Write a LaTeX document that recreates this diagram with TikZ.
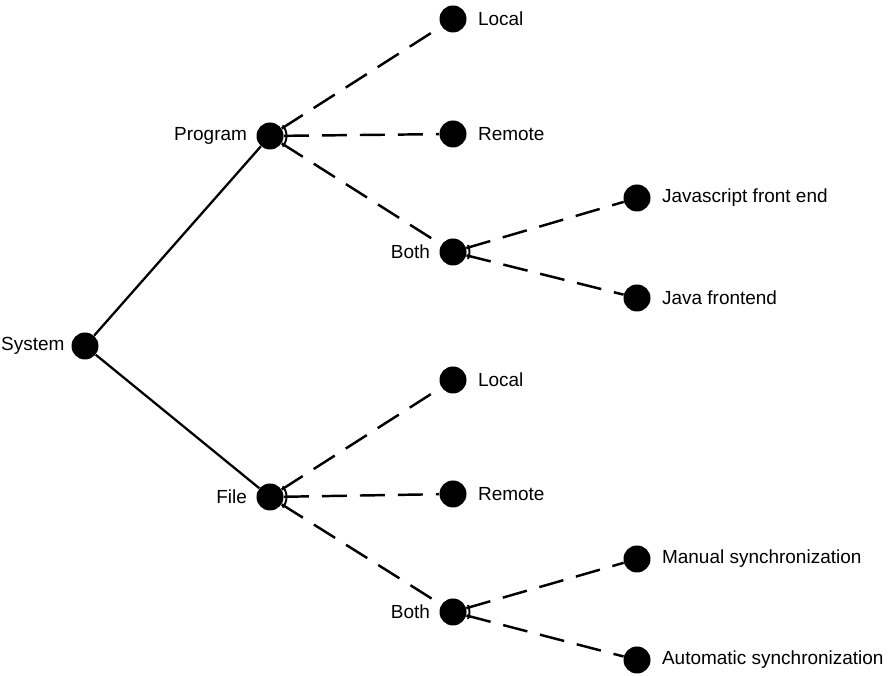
\documentclass[tikz,border=0pt]{standalone}
\usepackage{fontspec}
\setmainfont{Liberation Sans}
\usetikzlibrary{calc}

\tikzset{
  dot/.style={circle, fill=black, minimum size=0.54cm, inner sep=0pt},
  solidedge/.style={line width=1.3pt},
  optedge/.style={line width=1.4pt, dash pattern=on 0.5cm off 0.26cm},
  altarc/.style={line width=1.1pt}
}

\begin{document}
\begin{tikzpicture}[font=\fontsize{10.8}{13}\selectfont, label distance=0.1cm]
\useasboundingbox (0,0) rectangle (17.8,13.52);

% root and the two main branches
\node[dot, label={[label distance=0.01cm]left:System}] (sys) at (1.7,6.6) {};
\node[dot, label={[label distance=0.06cm]left:Program}] (prog) at (5.4,10.8) {};
\node[dot, label={[label distance=0.06cm]left:File}] (file) at (5.4,3.58) {};

% program branch
\node[dot, label=right:Local] (plocal) at (9.06,13.14) {};
\node[dot, label=right:Remote] (premote) at (9.06,10.84) {};
\node[dot, label={[label distance=0.06cm]left:Both}] (pboth) at (9.06,8.48) {};
\node[dot, label=right:Javascript front end] (js) at (12.74,9.56) {};
\node[dot, label=right:Java frontend] (java) at (12.74,7.56) {};

% file branch
\node[dot, label=right:Local] (flocal) at (9.06,5.92) {};
\node[dot, label=right:Remote] (fremote) at (9.06,3.64) {};
\node[dot, label={[label distance=0.06cm]left:Both}] (fboth) at (9.06,1.28) {};
\node[dot, label=right:Manual synchronization] (manual) at (12.74,2.34) {};
\node[dot, label=right:Automatic synchronization] (auto) at (12.74,0.32) {};

\draw[solidedge] (sys) -- (prog);
\draw[solidedge] (sys) -- (file);

\foreach \a/\b in {prog/plocal, prog/premote, prog/pboth, pboth/js, pboth/java,
                   file/flocal, file/fremote, file/fboth, fboth/manual, fboth/auto}
  \draw[optedge] (\a) -- (\b);

% alternative arcs
\foreach \n/\r in {prog/40, file/40, pboth/25, fboth/25}
  \draw[altarc] ($(\n.center)+(-\r:0.33)$) arc[start angle=-\r, end angle=\r, radius=0.33];
\end{tikzpicture}
\end{document}
